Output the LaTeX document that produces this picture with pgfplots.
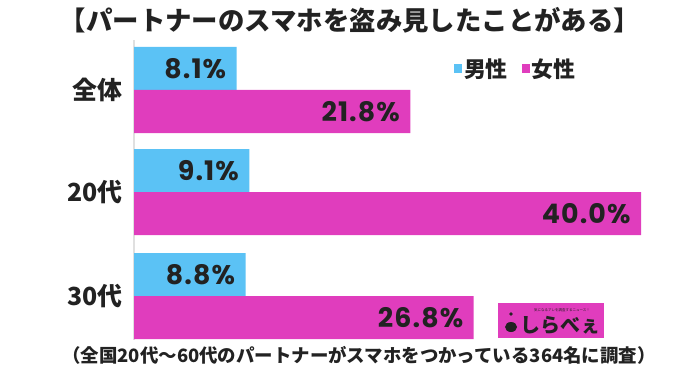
\documentclass[border=0pt]{standalone}
\usepackage{fontspec}
\setmainfont{Noto Sans CJK JP}
\newfontfamily\numfont{Poppins}[LetterSpace=4]
\usepackage{pgfplots}
\pgfplotsset{compat=1.18}
\definecolor{maleblue}{HTML}{5BC2F5}
\definecolor{femalemag}{HTML}{E03DBD}
\definecolor{txt}{HTML}{222222}
\begin{document}
\begin{tikzpicture}[x=1bp,y=1bp]
\path[use as bounding box] (0,0) rectangle (700,369);
\node[font=\bfseries\fontsize{26.5}{26.5}\selectfont, text=txt] at (350,349) {【パートナーのスマホを盗み見したことがある】};
\begin{axis}[
  at={(134bp,29bp)}, anchor=south west,
  scale only axis, width=507bp, height=300bp,
  xmin=0, xmax=40, ymin=29, ymax=329,
  hide x axis,
  axis y line*=left,
  y axis line style={draw=black!12, line width=1.2pt, -},
  ytick={73,177,279}, yticklabels={30代,20代,全体},
  major tick length=0,
  yticklabel style={font=\bfseries\fontsize{25}{25}\selectfont, text=txt, xshift=-8bp},
  xbar, bar width=43bp, clip=false,
  point meta=x,
  /pgf/number format/assume math mode=true,
  nodes near coords={\pgfmathprintnumber[fixed,fixed zerofill,precision=1,assume math mode=true]{\pgfplotspointmeta}\%},
  nodes near coords style={anchor=east, xshift=-7bp, font=\numfont\bfseries\fontsize{27}{27}\selectfont, text=txt},
  legend style={at={(0.625,0.905)}, anchor=west, draw=none, fill=none, legend columns=2,
    font=\bfseries\fontsize{22}{22}\selectfont, text=txt,
    /tikz/every even column/.append style={column sep=12bp}},
  legend image code/.code={\fill[#1] (0bp,-4bp) rectangle (8bp,4bp);},
]
\addplot[fill=maleblue, draw=none, bar shift=21.5bp] coordinates {(8.1,279) (9.1,177) (8.8,73)};
\addplot[fill=femalemag, draw=none, bar shift=-21.5bp] coordinates {(21.8,279) (40.0,177) (26.8,73)};
\legend{男性,女性}
\end{axis}
\fill[femalemag] (498,31) rectangle (604,66);
\node[font=\fontsize{3.5}{3.5}\selectfont, text=txt] at (562,59) {気になるアレを調査するニュース！};
\fill[txt] (511,42) ellipse (6 and 5);
\fill[txt] (511,55) circle (1.8);
\node[font=\bfseries\fontsize{20}{20}\selectfont, text=txt, anchor=west] at (517,44) {しらべぇ};
\node[font=\bfseries\fontsize{18.5}{18.5}\selectfont, text=txt] at (359,14) {（全国20代〜60代のパートナーがスマホをつかっている364名に調査）};
\end{tikzpicture}
\end{document}
